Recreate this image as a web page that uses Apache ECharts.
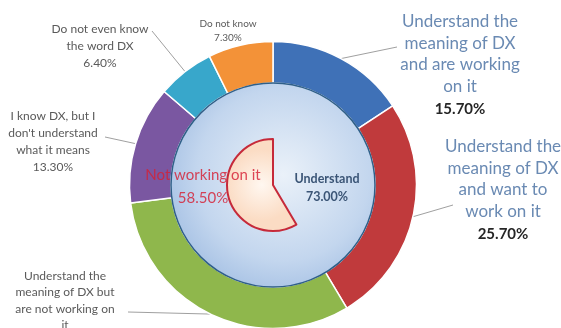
<!DOCTYPE html>
<html>
<head>
<meta charset="utf-8">
<script src="https://cdn.jsdelivr.net/npm/echarts@6/dist/echarts.min.js"></script>
<style>
  html, body { margin: 0; padding: 0; background: #ffffff; }
  #chart { width: 561px; height: 328px; }
</style>
</head>
<body>
<div id="chart"></div>
<script>
// Outer ring: awareness of DX, clockwise from 12 o'clock
const ringNames = [
  'Understand the\nmeaning of DX\nand are working\non it',
  'Understand the\nmeaning of DX\nand want to\nwork on it',
  'Understand the\nmeaning of DX but\nare not working on\nit',
  'I know DX, but I\ndon\'t understand\nwhat it means',
  'Do not even know\nthe word DX',
  'Do not know'
];
const ringValues = [15.7, 25.7, 31.6, 13.3, 6.4, 7.3];
const ringColors = ['#3f71b7', '#c03a3c', '#8fb74c', '#7a57a1', '#38a7cb', '#f39238'];

// Inner summary: share that understands DX, share not working on it
const understandName = 'Understand';
const understandValue = 73.0;
const notWorkingName = 'Not working on it';
const notWorkingValue = 58.5;

// Label text styles for the ring (font size, line height, colours)
const ringLabelStyles = [
  { size: 17, lh: 21.5, color: '#6a8ab3', pSize: 15, pColor: '#262626', pWeight: 'bold', pLh: 24 },
  { size: 17, lh: 21.5, color: '#6a8ab3', pSize: 15, pColor: '#262626', pWeight: 'bold', pLh: 24 },
  { size: 12, lh: 16.5, color: '#5a5a5a', pSize: 12, pColor: '#5a5a5a', pWeight: 'normal', pLh: 16.5 },
  { size: 12, lh: 17, color: '#5a5a5a', pSize: 12, pColor: '#5a5a5a', pWeight: 'normal', pLh: 17 },
  { size: 12, lh: 17, color: '#5a5a5a', pSize: 12, pColor: '#5a5a5a', pWeight: 'normal', pLh: 17 },
  { size: 10, lh: 14, color: '#5a5a5a', pSize: 10, pColor: '#5a5a5a', pWeight: 'normal', pLh: 14 }
];
// Label placement: [label centre x, label centre y, leader end x, leader end y]
const ringLabelPlacement = [
  [460, 66, 397, 47],
  [503, 191, 453, 205],
  [65, 309, 128, 312],
  [53, 142, 105, 137],
  [100, 46, 152, 31],
  [228, 31, null, null]
];

const FONT = 'Lato, "Open Sans", sans-serif';
const CENTER = [273, 185];
const pct = v => v.toFixed(2) + '%';

const ringData = ringNames.map((name, i) => {
  const s = ringLabelStyles[i];
  return {
    name,
    value: ringValues[i],
    itemStyle: { color: ringColors[i] },
    label: {
      rich: {
        t: { fontSize: s.size, lineHeight: s.lh, color: s.color, fontFamily: FONT, align: 'center' },
        p: { fontSize: s.pSize, lineHeight: s.pLh, color: s.pColor, fontWeight: s.pWeight, fontFamily: FONT, align: 'center' }
      }
    },
    labelLine: { show: ringLabelPlacement[i][2] !== null }
  };
});

const chart = echarts.init(document.getElementById('chart'), null, { renderer: 'canvas' });

chart.setOption({
  backgroundColor: '#ffffff',
  animation: false,
  series: [
    {
      // outer ring
      type: 'pie',
      center: CENTER,
      radius: [102, 143.5],
      startAngle: 90,
      clockwise: true,
      avoidLabelOverlap: false,
      silent: true,
      itemStyle: { borderColor: '#ffffff', borderWidth: 1.5 },
      label: {
        show: true,
        position: 'outside',
        formatter: p => '{t|' + p.name + '}\n{p|' + pct(p.value) + '}'
      },
      labelLine: { show: true, length: 10, length2: 10, lineStyle: { color: '#a0a0a0', width: 1 } },
      labelLayout: p => {
        const a = ringLabelPlacement[p.dataIndex];
        const out = { x: a[0], y: a[1], align: 'center', verticalAlign: 'middle' };
        if (a[2] !== null && p.labelLinePoints) {
          out.labelLinePoints = [p.labelLinePoints[0], [a[2], a[3]]];
        }
        return out;
      },
      data: ringData,
      z: 2
    },
    {
      // inner disc: understand
      type: 'pie',
      center: CENTER,
      radius: [0, 102],
      startAngle: 90,
      silent: true,
      avoidLabelOverlap: false,
      itemStyle: {
        color: {
          type: 'radial', x: 0.55, y: 0.45, r: 0.6,
          colorStops: [
            { offset: 0, color: '#eaf1f9' },
            { offset: 0.7, color: '#c3d6ee' },
            { offset: 1, color: '#a6c1e4' }
          ]
        },
        borderColor: '#2f5f88',
        borderWidth: 1.5
      },
      label: {
        show: true,
        position: 'center',
        formatter: p => p.name + '\n' + pct(p.value),
        fontFamily: FONT,
        fontSize: 12.5,
        fontWeight: 'bold',
        lineHeight: 18,
        color: '#3b5576'
      },
      labelLayout: () => ({ dx: 54, dy: 3 }),
      labelLine: { show: false },
      data: [{ name: understandName, value: understandValue }],
      z: 3
    },
    {
      // inner wedge: not working on it, counter-clockwise from 12 o'clock
      type: 'pie',
      center: CENTER,
      radius: [0, 46],
      startAngle: 90,
      clockwise: false,
      silent: true,
      avoidLabelOverlap: false,
      label: {
        show: true,
        position: 'center',
        formatter: p => p.name + '\n' + pct(p.value),
        fontFamily: FONT,
        fontSize: 15,
        lineHeight: 23,
        color: 'rgba(214,32,52,0.82)'
      },
      labelLayout: () => ({ dx: -70, dy: 2 }),
      labelLine: { show: false },
      data: [
        {
          name: notWorkingName,
          value: notWorkingValue,
          itemStyle: {
            color: {
              type: 'radial', x: 0.5, y: 0.5, r: 0.5,
              colorStops: [
                { offset: 0, color: '#fff7f0' },
                { offset: 1, color: '#fbdcc4' }
              ]
            },
            borderColor: '#c62a3a',
            borderWidth: 2
          }
        },
        {
          name: '',
          value: 100 - notWorkingValue,
          itemStyle: { color: 'rgba(0,0,0,0)', borderWidth: 0 },
          label: { show: false }
        }
      ],
      z: 4
    }
  ]
});
</script>
</body>
</html>
